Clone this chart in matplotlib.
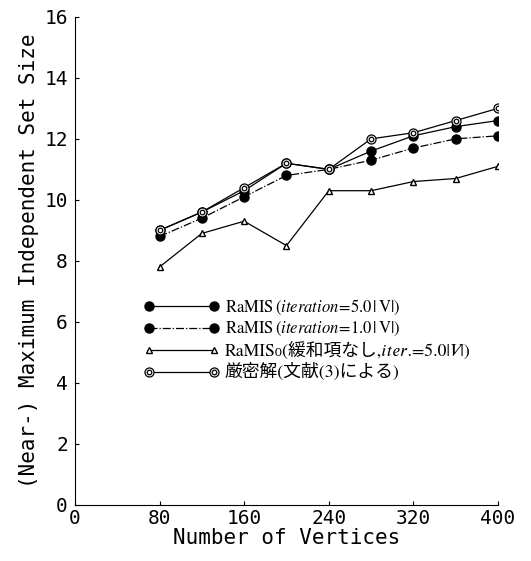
import matplotlib
matplotlib.use("Agg")
import matplotlib.pyplot as plt
from matplotlib.legend_handler import HandlerTuple

# number of vertices
VERTICES = [80, 120, 160, 200, 240, 280, 320, 360, 400]
# RaMIS, iteration = 5.0|V|
RAMIS_50 = [9.0, 9.6, 10.3, 11.2, 11.0, 11.6, 12.1, 12.4, 12.6]
# RaMIS, iteration = 1.0|V|
RAMIS_10 = [8.8, 9.4, 10.1, 10.8, 11.0, 11.3, 11.7, 12.0, 12.1]
# RaMIS_0 (no relaxation term), iter. = 5.0|V|
RAMIS0 = [7.8, 8.9, 9.3, 8.5, 10.3, 10.3, 10.6, 10.7, 11.1]
# exact solution (ref. 3)
EXACT = [9.0, 9.6, 10.4, 11.2, 11.0, 12.0, 12.2, 12.6, 13.0]

X_TICKS = [0, 80, 160, 240, 320, 400]
Y_TICKS = [0, 2, 4, 6, 8, 10, 12, 14, 16]

LABELS = [
    r"RaMIS$\,(\it{iteration}\!=\!\rm{5.0}\,|\,V|)$",
    r"RaMIS$\,(\it{iteration}\!=\!\rm{1.0}\,|\,V|)$",
    "RaMIS\u2080(緩和項なし,\U0001D456\U0001D461\U0001D452\U0001D45F.=5.0|\U0001D449|)",
    "厳密解(文献(3)による)",
]

plt.rcParams["mathtext.fontset"] = "stix"
MONO = "DejaVu Sans Mono"
SERIF_JP = ["STIXGeneral", "DejaVu Serif", "Noto Sans CJK JP"]

fig = plt.figure(figsize=(5.31, 5.61), dpi=100)
ax = fig.add_axes([0.141, 0.1, 0.797, 0.87])

kw = dict(color="black", lw=0.9)
l1, = ax.plot(VERTICES, RAMIS_50, "-", marker="o", ms=6.5, mfc="black", **kw)
l2, = ax.plot(VERTICES, RAMIS_10, "-.", marker="o", ms=6.5, mfc="black", **kw)
l3, = ax.plot(VERTICES, RAMIS0, "-", marker="^", ms=5, mfc="white", **kw)
l4, = ax.plot(VERTICES, EXACT, "-", marker="o", ms=6.5, mfc="white", mew=0.9, **kw)
l4b, = ax.plot(VERTICES, EXACT, "none", marker="o", ms=3.3, mfc="white",
               mec="black", mew=0.9)

leg = ax.legend([l1, l2, l3, (l4, l4b)], LABELS, numpoints=2, frameon=False,
                handlelength=4.5, handletextpad=0.35, labelspacing=0.2,
                loc="upper left", bbox_to_anchor=(0.128, 0.455),
                handler_map={tuple: HandlerTuple(ndivide=1, pad=0)},
                prop=dict(family=SERIF_JP, size=12))
for i, t in enumerate(leg.get_texts()):
    if i >= 2:
        t.set_fontsize(12.8)

ax.set_xlim(0, 400)
ax.set_ylim(0, 16)
ax.set_xticks(X_TICKS)
ax.set_yticks(Y_TICKS)
ax.tick_params(direction="in", length=3, width=0.8)
ax.tick_params(axis="y", pad=5)
ax.tick_params(axis="x", pad=3)
for lab in ax.get_xticklabels() + ax.get_yticklabels():
    lab.set_fontfamily(MONO)
    lab.set_fontsize(14)
ax.spines["top"].set_visible(False)
ax.spines["right"].set_visible(False)
ax.set_xlabel("Number of Vertices", labelpad=0, family=MONO, fontsize=15)
ax.set_ylabel("(Near-) Maximum Independent Set Size", labelpad=4, fontsize=15,
              family=MONO)

fig.savefig("out.png", dpi=100, facecolor="white")
